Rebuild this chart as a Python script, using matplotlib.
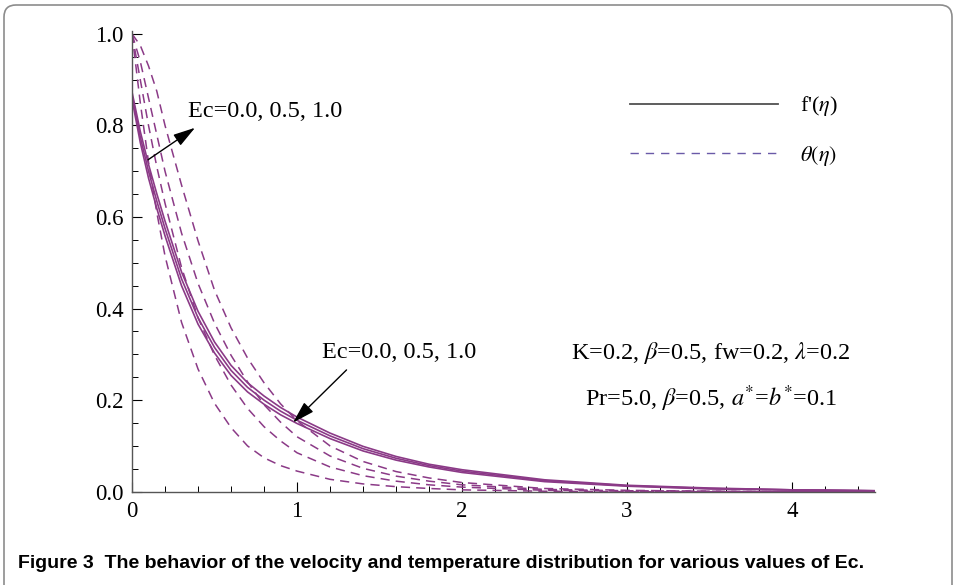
import matplotlib
matplotlib.use("Agg")
import matplotlib.pyplot as plt
from matplotlib.lines import Line2D
from matplotlib.patches import FancyBboxPatch
from matplotlib.transforms import IdentityTransform
from matplotlib.ticker import MultipleLocator

plt.rcParams['font.family'] = ['Liberation Serif', 'DejaVu Serif']
plt.rcParams['mathtext.fontset'] = 'stix'

# ---------------- data ----------------
eta = [0, 0.05, 0.1, 0.15, 0.2, 0.3, 0.4, 0.5, 0.6, 0.7, 0.8, 0.9, 1.0,
       1.2, 1.4, 1.6, 1.8, 2.0, 2.5, 3.0, 3.5, 4.0, 4.5]

# f'(eta) for Ec = 0.0, 0.5, 1.0
fp_ec0 = [0.857, 0.763, 0.685, 0.619, 0.559, 0.450, 0.366, 0.303, 0.254, 0.218, 0.191, 0.168,
          0.149, 0.116, 0.089, 0.069, 0.054, 0.042, 0.022, 0.012, 0.006, 0.004, 0.002]
fp_ec05 = [0.865, 0.775, 0.700, 0.635, 0.575, 0.465, 0.380, 0.315, 0.265, 0.228, 0.200, 0.176,
           0.156, 0.122, 0.094, 0.073, 0.057, 0.045, 0.024, 0.013, 0.007, 0.004, 0.002]
fp_ec1 = [0.873, 0.787, 0.715, 0.651, 0.591, 0.480, 0.394, 0.327, 0.276, 0.238, 0.209, 0.184,
          0.163, 0.128, 0.099, 0.077, 0.060, 0.048, 0.026, 0.014, 0.008, 0.004, 0.002]

# theta(eta) curves
theta_a = [1.0, 0.85, 0.72, 0.61, 0.515, 0.37, 0.268, 0.193, 0.14, 0.10, 0.074, 0.057,
           0.045, 0.027, 0.017, 0.011, 0.007, 0.004, 0.001, 0.0, 0.0, 0.0, 0.0]
theta_b = [1.0, 0.90, 0.80, 0.71, 0.63, 0.49, 0.38, 0.298, 0.233, 0.182, 0.142, 0.111,
           0.085, 0.054, 0.035, 0.023, 0.015, 0.010, 0.003, 0.001, 0.0, 0.0, 0.0]
theta_c = [1.0, 0.94, 0.86, 0.78, 0.70, 0.565, 0.455, 0.368, 0.298, 0.240, 0.190, 0.152,
           0.120, 0.078, 0.051, 0.034, 0.023, 0.015, 0.005, 0.002, 0.001, 0.0, 0.0]
theta_d = [1.0, 0.975, 0.93, 0.875, 0.80, 0.67, 0.548, 0.44, 0.358, 0.292, 0.238, 0.192,
           0.155, 0.100, 0.066, 0.044, 0.030, 0.020, 0.007, 0.003, 0.001, 0.0, 0.0]

purple = '#8b3a87'
fs = 17.5

fig = plt.figure(figsize=(9.56, 5.85), dpi=100)
ax = fig.add_axes([0.1381, 0.1595, 0.7767, 0.788])

for fp in (fp_ec0, fp_ec05, fp_ec1):
    ax.plot(eta, fp, color=purple, lw=1.2)
for th in (theta_a, theta_b, theta_c, theta_d):
    ax.plot(eta, th, color=purple, lw=1.1, dashes=(6, 4))

ax.set_xlim(0, 4.5)
ax.set_ylim(0, 1.007)

# Mathematica style axes
for s in ('top', 'right'):
    ax.spines[s].set_visible(False)
for s in ('left', 'bottom'):
    ax.spines[s].set_color('#555555')
    ax.spines[s].set_linewidth(1.0)

ax.xaxis.set_major_locator(MultipleLocator(1))
ax.xaxis.set_minor_locator(MultipleLocator(0.2))
ax.yaxis.set_major_locator(MultipleLocator(0.2))
ax.yaxis.set_minor_locator(MultipleLocator(0.05))
ax.set_yticks([0, 0.2, 0.4, 0.6, 0.8, 1.0])
ax.set_yticklabels(['0.0', '0.2', '0.4', '0.6', '0.8', '1.0'])
ax.tick_params(which='major', direction='in', length=7, width=0.8, labelsize=16.5, pad=6)
ax.tick_params(which='minor', direction='in', length=4, width=0.7)
ax.tick_params(axis='x', which='major', pad=7)

# legend
handles = [Line2D([], [], color='#505050', lw=1.3),
           Line2D([], [], color='#6a5aa8', lw=1.0, dashes=(6, 5))]
ax.legend(handles, ["f'($\\eta$)", "$\\theta(\\eta)$"], loc='upper left',
          bbox_to_anchor=(0.671, 0.862), frameon=False, fontsize=16,
          handlelength=6.65, handletextpad=1.0, labelspacing=1.15, borderpad=0,
          borderaxespad=0)

# annotations
ax.annotate('', xy=(0.382, 0.795), xytext=(0.097, 0.725),
            arrowprops=dict(arrowstyle='-|>,head_length=0.75,head_width=0.22',
                            color='black', lw=1.0, mutation_scale=18, shrinkA=0, shrinkB=0))
ax.text(0.34, 0.831, 'Ec=0.0, 0.5, 1.0', fontsize=fs, va='center', ha='left')

ax.annotate('', xy=(0.976, 0.151), xytext=(1.30, 0.266),
            arrowprops=dict(arrowstyle='-|>,head_length=0.75,head_width=0.22',
                            color='black', lw=1.0, mutation_scale=18, shrinkA=0, shrinkB=0))
ax.text(1.15, 0.303, 'Ec=0.0, 0.5, 1.0', fontsize=fs, va='center', ha='left')

ax.text(3.51, 0.303, 'K=0.2, $\\beta$=0.5, fw=0.2, $\\lambda$=0.2', fontsize=fs,
        va='center', ha='center')
ax.text(3.51, 0.204, 'Pr=5.0, $\\beta$=0.5, $a^{*}$=$b^{*}$=0.1', fontsize=fs,
        va='center', ha='center')

# caption and rounded frame
fig.text(18 / 956, 1 - 563 / 585,
         'Figure 3  The behavior of the velocity and temperature distribution for various values of Ec.',
         family=['Liberation Sans Narrow', 'Liberation Sans', 'DejaVu Sans'],
         fontsize=14, weight='bold', va='center', ha='left')

frame = FancyBboxPatch((4, -30), 948, 610, boxstyle='round,pad=0,rounding_size=12',
                       transform=IdentityTransform(), facecolor='none',
                       edgecolor='#8c8c8c', lw=1.2)
fig.patches.append(frame)

fig.savefig('out.png', dpi=100)
